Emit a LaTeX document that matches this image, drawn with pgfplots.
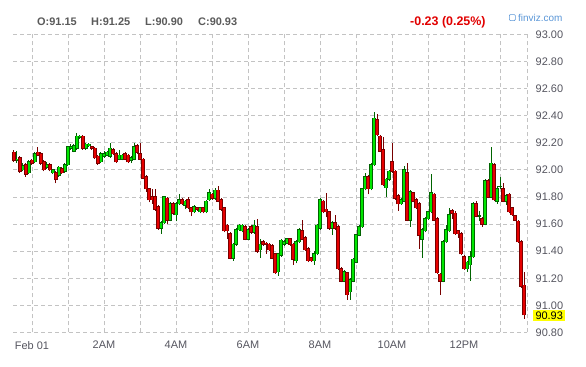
\documentclass[border=0pt]{standalone}
\usepackage{fontspec}
\setmainfont{Liberation Sans}
\usepackage{pgfplots}
\usepackage{pgfplotstable}
\pgfplotsset{compat=1.18}
\definecolor{gridc}{RGB}{195,195,195}
\definecolor{upfill}{RGB}{0,230,0}
\definecolor{upline}{RGB}{0,100,0}
\definecolor{dnfill}{RGB}{230,0,0}
\definecolor{dnline}{RGB}{120,0,0}
\definecolor{labc}{RGB}{85,85,95}
\definecolor{hdrc}{RGB}{90,90,90}
\definecolor{fvblue}{RGB}{90,150,215}
\definecolor{chgred}{RGB}{225,0,0}
\definecolor{hilite}{RGB}{255,255,0}

\pgfplotstableread{
k O H L C
0 92.13 92.15 92.06 92.07
1 92.07 92.14 92.05 92.08
2 92.09 92.10 91.98 91.99
3 92.00 92.05 91.99 92.03
4 92.04 92.05 91.95 91.97
5 91.98 92.07 91.97 92.06
6 92.07 92.08 92.04 92.05
7 92.06 92.13 92.05 92.12
8 92.13 92.17 92.10 92.11
9 92.12 92.13 92.04 92.05
10 92.06 92.07 91.99 92.00
11 92.02 92.06 92.01 92.04
12 92.04 92.05 91.99 92.00
13 91.98 92.01 91.97 92.00
14 91.98 91.99 91.90 91.93
15 91.96 92.03 91.95 92.02
16 92.01 92.02 91.97 91.98
17 91.99 92.05 91.98 92.04
18 92.04 92.18 92.03 92.17
19 92.16 92.19 92.15 92.17
20 92.14 92.19 92.13 92.18
21 92.16 92.27 92.15 92.25
22 92.24 92.26 92.23 92.25
23 92.25 92.26 92.15 92.16
24 92.16 92.20 92.15 92.19
25 92.18 92.20 92.17 92.19
26 92.17 92.18 92.15 92.16
27 92.16 92.17 92.08 92.09
28 92.10 92.11 92.04 92.05
29 92.06 92.13 92.05 92.12
30 92.10 92.14 92.09 92.12
31 92.11 92.14 92.10 92.13
32 92.10 92.20 92.09 92.16
33 92.15 92.16 92.11 92.12
34 92.12 92.13 92.05 92.06
35 92.08 92.15 92.07 92.11
36 92.08 92.12 92.07 92.11
37 92.12 92.13 92.07 92.08
38 92.11 92.12 92.05 92.06
39 92.07 92.10 92.05 92.09
40 92.08 92.20 92.07 92.17
41 92.18 92.19 92.12 92.13
42 92.12 92.20 92.07 92.08
43 92.08 92.09 91.93 91.94
44 91.95 91.96 91.84 91.86
45 91.86 91.87 91.76 91.78
46 91.80 91.86 91.75 91.78
47 91.80 91.86 91.70 91.71
48 91.73 91.74 91.56 91.57
49 91.57 91.62 91.53 91.61
50 91.61 91.81 91.60 91.80
51 91.79 91.80 91.60 91.63
52 91.63 91.76 91.62 91.75
53 91.75 91.76 91.67 91.68
54 91.67 91.76 91.62 91.75
55 91.75 91.82 91.74 91.78
56 91.78 91.79 91.74 91.75
57 91.74 91.78 91.71 91.77
58 91.78 91.80 91.71 91.72
59 91.72 91.73 91.66 91.69
60 91.69 91.74 91.68 91.73
61 91.72 91.73 91.70 91.71
62 91.69 91.73 91.68 91.72
63 91.72 91.73 91.68 91.69
64 91.69 91.78 91.68 91.77
65 91.78 91.86 91.77 91.83
66 91.82 91.83 91.78 91.79
67 91.79 91.87 91.78 91.85
68 91.85 91.88 91.76 91.77
69 91.78 91.79 91.70 91.71
70 91.72 91.73 91.54 91.55
71 91.59 91.60 91.49 91.55
72 91.53 91.54 91.34 91.35
73 91.35 91.46 91.33 91.45
74 91.45 91.57 91.44 91.56
75 91.56 91.60 91.55 91.59
76 91.55 91.60 91.54 91.59
77 91.58 91.59 91.48 91.49
78 91.49 91.57 91.48 91.56
79 91.58 91.59 91.53 91.54
80 91.54 91.63 91.53 91.59
81 91.58 91.64 91.39 91.40
82 91.41 91.49 91.35 91.45
83 91.47 91.48 91.44 91.45
84 91.46 91.47 91.38 91.45
85 91.45 91.46 91.40 91.41
86 91.44 91.45 91.34 91.35
87 91.38 91.39 91.23 91.24
88 91.25 91.39 91.22 91.38
89 91.37 91.49 91.36 91.48
90 91.45 91.48 91.44 91.47
91 91.46 91.50 91.45 91.49
92 91.49 91.50 91.44 91.45
93 91.45 91.46 91.30 91.34
94 91.33 91.48 91.31 91.47
95 91.47 91.57 91.46 91.56
96 91.55 91.63 91.48 91.49
97 91.50 91.51 91.40 91.41
98 91.42 91.43 91.32 91.33
99 91.35 91.36 91.32 91.33
100 91.33 91.40 91.30 91.38
101 91.38 91.60 91.37 91.59
102 91.57 91.79 91.56 91.78
103 91.77 91.78 91.68 91.69
104 91.71 91.83 91.65 91.69
105 91.69 91.70 91.56 91.57
106 91.57 91.62 91.52 91.61
107 91.61 91.67 91.56 91.57
108 91.58 91.59 91.26 91.27
109 91.27 91.28 91.17 91.18
110 91.18 91.26 91.17 91.25
111 91.24 91.25 91.04 91.08
112 91.10 91.20 91.04 91.19
113 91.18 91.35 91.17 91.34
114 91.32 91.53 91.31 91.52
115 91.52 91.59 91.51 91.58
116 91.58 91.87 91.57 91.86
117 91.86 91.98 91.85 91.95
118 91.95 91.96 91.82 91.86
119 91.86 92.05 91.85 92.04
120 92.04 92.43 92.03 92.38
121 92.37 92.41 92.25 92.26
122 92.25 92.26 92.13 92.14
123 92.15 92.24 91.88 91.89
124 91.87 91.94 91.80 91.93
125 91.93 92.00 91.92 91.99
126 92.06 92.20 91.98 91.99
127 91.99 92.00 91.78 91.79
128 91.81 91.82 91.70 91.75
129 91.75 91.79 91.74 91.78
130 91.77 92.03 91.76 92.00
131 91.98 92.05 91.62 91.63
132 91.63 91.85 91.58 91.84
133 91.83 91.84 91.76 91.77
134 91.78 91.79 91.71 91.72
135 91.75 91.76 91.42 91.52
136 91.49 91.57 91.35 91.56
137 91.55 91.65 91.54 91.64
138 91.64 91.70 91.63 91.69
139 91.69 91.97 91.68 91.83
140 91.82 91.83 91.62 91.63
141 91.64 91.65 91.23 91.24
142 91.23 91.24 91.08 91.18
143 91.18 91.48 91.17 91.47
144 91.47 91.59 91.46 91.56
145 91.55 91.72 91.54 91.67
146 91.70 91.71 91.64 91.68
147 91.68 91.70 91.52 91.53
148 91.55 91.56 91.50 91.53
149 91.53 91.54 91.37 91.38
150 91.36 91.37 91.26 91.27
151 91.27 91.33 91.25 91.32
152 91.30 91.40 91.18 91.36
153 91.36 91.76 91.35 91.75
154 91.75 91.77 91.65 91.66
155 91.66 91.70 91.62 91.66
156 91.64 91.65 91.58 91.60
157 91.60 91.93 91.59 91.92
158 91.92 91.93 91.79 91.80
159 91.80 92.17 91.79 92.05
160 92.04 92.05 91.77 91.78
161 91.77 91.88 91.75 91.86
162 91.88 91.95 91.86 91.88
163 91.86 91.90 91.76 91.77
164 91.77 91.82 91.74 91.81
165 91.82 91.83 91.68 91.69
166 91.72 91.73 91.66 91.67
167 91.66 91.67 91.62 91.63
168 91.62 91.63 91.46 91.47
169 91.47 91.48 91.13 91.14
170 91.15 91.25 90.90 90.93
}\candles

\begin{document}
\begin{tikzpicture}
\begin{axis}[
  x=3bp, y=135.45bp,
  xmin=-0.333, xmax=171, ymin=90.8, ymax=93.0,
  axis line style={draw=none},
  clip=false,
  xtick={6,18,30,42,54,66,78,90,102,114,126,138,150,162},
  xticklabels={Feb 01,,2AM,,4AM,,6AM,,8AM,,10AM,,12PM,},
  extra x ticks={171}, extra x tick labels={},
  extra x tick style={grid=major},
  ytick={90.8,91.0,91.2,91.4,91.6,91.8,92.0,92.2,92.4,92.6,92.8,93.0},
  yticklabel pos=right,
  major tick length=0pt,
  grid=major,
  major grid style={draw=gridc, line width=0.9bp, dash pattern=on 4bp off 3bp},
  xticklabel style={anchor=north, inner sep=0pt, yshift=-8.5bp, font=\fontsize{11}{13}\selectfont, text=labc},
  yticklabel style={anchor=west, inner sep=0pt, xshift=8.5bp, font=\fontsize{11}{13}\selectfont, text=labc},
  /pgf/number format/.cd, fixed, fixed zerofill, precision=2, assume math mode=true,
]
% wicks
\addplot[draw=none, mark=none, error bars/.cd, y dir=plus, y explicit, error mark=none,
  error bar style={draw=upline, solid, line width=1bp}]
  table[x=k, y expr={\thisrow{C}>=\thisrow{O} ? \thisrow{L} : nan}, y error expr={\thisrow{H}-\thisrow{L}}] {\candles};
\addplot[draw=none, mark=none, error bars/.cd, y dir=plus, y explicit, error mark=none,
  error bar style={draw=dnline, solid, line width=1bp}]
  table[x=k, y expr={\thisrow{C}<\thisrow{O} ? \thisrow{L} : nan}, y error expr={\thisrow{H}-\thisrow{L}}] {\candles};
% bodies: border
\addplot[draw=none, mark=none, error bars/.cd, y dir=plus, y explicit, error mark=none,
  error bar style={draw=upline, solid, line width=3.2bp}]
  table[x=k, y expr={\thisrow{C}>=\thisrow{O} ? \thisrow{O}-0.004 : nan}, y error expr={\thisrow{C}-\thisrow{O}+0.008}] {\candles};
\addplot[draw=none, mark=none, error bars/.cd, y dir=plus, y explicit, error mark=none,
  error bar style={draw=dnline, solid, line width=3.2bp}]
  table[x=k, y expr={\thisrow{C}<\thisrow{O} ? \thisrow{C}-0.004 : nan}, y error expr={\thisrow{O}-\thisrow{C}+0.008}] {\candles};
% bodies: fill
\addplot[draw=none, mark=none, error bars/.cd, y dir=plus, y explicit, error mark=none,
  error bar style={draw=upfill, solid, line width=1.6bp}]
  table[x=k, y expr={\thisrow{C}>=\thisrow{O} ? \thisrow{O} : nan}, y error expr={\thisrow{C}-\thisrow{O}}] {\candles};
\addplot[draw=none, mark=none, error bars/.cd, y dir=plus, y explicit, error mark=none,
  error bar style={draw=dnfill, solid, line width=1.6bp}]
  table[x=k, y expr={\thisrow{C}<\thisrow{O} ? \thisrow{C} : nan}, y error expr={\thisrow{O}-\thisrow{C}}] {\candles};

% header
\node[anchor=west, inner sep=0pt, text=hdrc, font=\bfseries\fontsize{11}{13}\selectfont] at (axis cs:7.67,93.092) {O:91.15};
\node[anchor=west, inner sep=0pt, text=hdrc, font=\bfseries\fontsize{11}{13}\selectfont] at (axis cs:25.67,93.092) {H:91.25};
\node[anchor=west, inner sep=0pt, text=hdrc, font=\bfseries\fontsize{11}{13}\selectfont] at (axis cs:43.67,93.092) {L:90.90};
\node[anchor=west, inner sep=0pt, text=hdrc, font=\bfseries\fontsize{11}{13}\selectfont] at (axis cs:61.33,93.092) {C:90.93};
\node[anchor=west, inner sep=0pt, text=chgred, font=\bfseries\fontsize{12.5}{14}\selectfont] at (axis cs:132,93.092) {-0.23 (0.25\%)};
\node[anchor=west, inner sep=0pt, draw=fvblue, line width=0.6bp, rounded corners=1bp, minimum width=6bp, minimum height=6bp] at (axis cs:165,93.125) {};
\node[anchor=west, inner sep=0pt, text=fvblue, font=\fontsize{10}{12}\selectfont] at (axis cs:168,93.125) {finviz.com};
% last price
\node[anchor=west, fill=hilite, inner xsep=2.3bp, inner ysep=2bp, text=black, font=\fontsize{11}{13}\selectfont] at ([xshift=6bp]axis cs:171,90.925) {90.93};
% bounding box
\path[draw=none] ([xshift=-13bp,yshift=-34.5bp]rel axis cs:0,0) rectangle ([xshift=59bp,yshift=34.5bp]rel axis cs:1,1);
\end{axis}
\end{tikzpicture}
\end{document}
